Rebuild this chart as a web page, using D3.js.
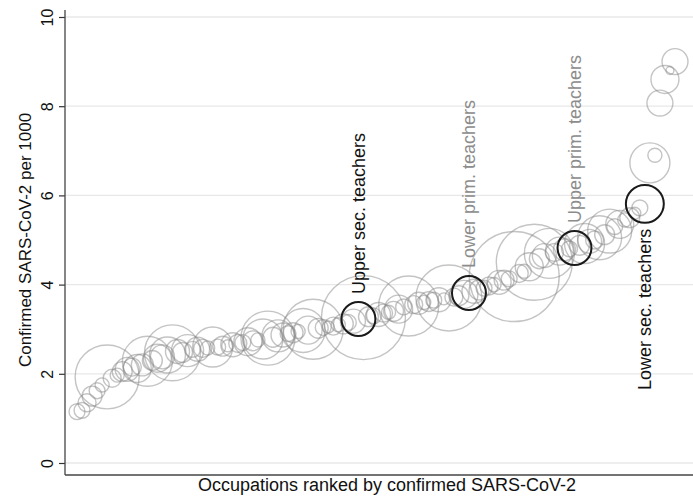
<!DOCTYPE html>
<html>
<head>
<meta charset="utf-8">
<script src="https://cdn.jsdelivr.net/npm/d3@7"></script>
<style>
  html, body { margin: 0; padding: 0; background: #fff; }
  svg { display: block; font-family: "Liberation Sans", Arial, Helvetica, sans-serif; }
</style>
</head>
<body>
<svg id="chart" width="693" height="496"></svg>
<script>
// ---- DATA ----
// Confirmed SARS-CoV-2 per 1000, occupations ranked ascending
const rates = [
  1.15, 1.18, 1.35, 1.50, 1.62, 1.75, 1.93, 1.90, 1.97, 2.05,
  2.10, 2.15, 2.12, 2.20, 2.28, 2.30, 2.35, 2.38, 2.42, 2.47,
  2.50, 2.48, 2.52, 2.55, 2.55, 2.57, 2.58, 2.60, 2.60, 2.62,
  2.63, 2.65, 2.68, 2.70, 2.72, 2.74, 2.76, 2.78, 2.80, 2.82,
  2.85, 2.87, 2.90, 2.92, 2.95, 2.97, 2.98, 3.00, 3.02, 3.04,
  3.05, 3.07, 3.10, 3.12, 3.15, 3.18, 3.23, 3.26, 3.28, 3.30,
  3.33, 3.36, 3.38, 3.40, 3.45, 3.50, 3.52, 3.55, 3.58, 3.60,
  3.62, 3.65, 3.66, 3.68, 3.70, 3.72, 3.75, 3.78, 3.81, 3.85,
  3.88, 3.92, 3.97, 4.00, 4.05, 4.10, 4.13, 4.18, 4.25, 4.30,
  4.40, 4.50, 4.58, 4.65, 4.70, 4.72, 4.75, 4.78, 4.80, 4.82,
  4.88, 4.92, 4.97, 5.00, 5.05, 5.12, 5.20, 5.30, 5.35, 5.45,
  5.50, 5.60, 5.72, 5.81, 6.73, 6.90, 8.07, 8.60, 8.80, 9.00
];
// Number employed (thousands), sets bubble area
const employed = [
  28, 28, 36, 44, 28, 22, 455, 36, 22, 44,
  64, 36, 87, 54, 278, 44, 87, 64, 144, 348,
  64, 44, 114, 28, 64, 36, 22, 178, 28, 44,
  16, 64, 36, 28, 87, 44, 22, 178, 324, 44,
  114, 64, 28, 44, 22, 215, 87, 400, 44, 28,
  16, 36, 22, 44, 28, 64, 128, 784, 44, 28,
  64, 36, 22, 44, 87, 28, 400, 36, 54, 22,
  44, 28, 64, 16, 484, 36, 44, 87, 128, 64,
  44, 28, 36, 22, 64, 44, 28, 900, 36, 22,
  87, 642, 44, 64, 278, 36, 87, 54, 28, 128,
  44, 178, 64, 36, 215, 44, 215, 28, 87, 22,
  44, 16, 28, 160, 178, 22, 75, 87, 7, 75
];
// Highlighted occupations: rank index and label
const highlightIdx   = [56, 78, 99, 113];
const highlightLabel = ["Upper sec. teachers", "Lower prim. teachers", "Upper prim. teachers", "Lower sec. teachers"];
const highlightPos   = ["above", "above", "above", "below"];
const highlightTone  = ["dark", "light", "light", "dark"];
const yTicks = [0, 2, 4, 6, 8, 10];
const yTitle = "Confirmed SARS-CoV-2 per 1000";
const xTitle = "Occupations ranked by confirmed SARS-CoV-2";

// ---- LAYOUT ----
const W = 693, H = 496;
const plotLeft = 65, plotRight = 693, plotTop = 10, plotBottom = 475;

const svg = d3.select("#chart");
const data = rates.map((v, i) => ({ i, v, n: employed[i] }));

const x = d3.scaleLinear().domain([0, rates.length - 1]).range([77, 675]);
const y = d3.scaleLinear().domain([0, 10]).range([463, 17]);
const r = d3.scaleSqrt().domain([0, 900]).range([0, 45]);

// gridlines
svg.append("g").selectAll("line").data(yTicks).join("line")
  .attr("x1", plotLeft).attr("x2", plotRight)
  .attr("y1", d => y(d)).attr("y2", d => y(d))
  .attr("stroke", "#e8e8e8").attr("stroke-width", 1.3);

// bubbles
const hlSet = new Set(highlightIdx);
svg.append("g").selectAll("circle").data(data.filter(d => !hlSet.has(d.i))).join("circle")
  .attr("cx", d => x(d.i)).attr("cy", d => y(d.v)).attr("r", d => r(d.n))
  .attr("fill", "none").attr("stroke", "#8a8a8a").attr("stroke-opacity", 0.5)
  .attr("stroke-width", 1.4);

svg.append("g").selectAll("circle").data(highlightIdx.map(i => data[i])).join("circle")
  .attr("cx", d => x(d.i)).attr("cy", d => y(d.v)).attr("r", d => r(d.n))
  .attr("fill", "none").attr("stroke", "#1a1a1a").attr("stroke-width", 2);

// labels
const lab = svg.append("g");
highlightIdx.forEach((idx, k) => {
  const d = data[idx];
  const cx = x(d.i), cy = y(d.v), rr = r(d.n);
  const above = highlightPos[k] === "above";
  const ly = above ? cy - rr - 8 : cy + rr + 6;
  lab.append("text")
    .attr("transform", `translate(${cx},${ly}) rotate(-90)`)
    .attr("text-anchor", above ? "start" : "end")
    .attr("dy", "0.35em")
    .attr("font-size", 18)
    .attr("fill", highlightTone[k] === "dark" ? "#111" : "#8c8c8c")
    .text(highlightLabel[k]);
});

// y axis
const yAxis = d3.axisLeft(y).tickValues(yTicks).tickSize(6).tickSizeOuter(0).tickFormat(d3.format("d"));
const gy = svg.append("g").attr("transform", `translate(${plotLeft},0)`).call(yAxis);
gy.select(".domain").remove();
gy.selectAll(".tick line").attr("stroke", "#333").attr("stroke-width", 1.2);
gy.selectAll(".tick text")
  .attr("font-size", 16).attr("fill", "#111")
  .attr("font-family", "Liberation Sans, Arial, sans-serif")
  .attr("text-anchor", "middle")
  .attr("dy", "0.35em")
  .attr("x", 0).attr("y", 0)
  .attr("transform", "translate(-18,0) rotate(-90)");

// axis lines
svg.append("line").attr("x1", plotLeft).attr("x2", plotLeft).attr("y1", plotTop).attr("y2", plotBottom)
  .attr("stroke", "#444").attr("stroke-width", 1.3);
svg.append("line").attr("x1", plotLeft).attr("x2", plotRight).attr("y1", plotBottom).attr("y2", plotBottom)
  .attr("stroke", "#444").attr("stroke-width", 1.3);

// titles
svg.append("text")
  .attr("transform", `translate(25,${(y(0) + y(10)) / 2}) rotate(-90)`)
  .attr("text-anchor", "middle").attr("dy", "0.35em")
  .attr("font-size", 17).attr("fill", "#111")
  .text(yTitle);
svg.append("text")
  .attr("x", 387).attr("y", 491)
  .attr("text-anchor", "middle")
  .attr("font-size", 18).attr("fill", "#111")
  .text(xTitle);
</script>
</body>
</html>
